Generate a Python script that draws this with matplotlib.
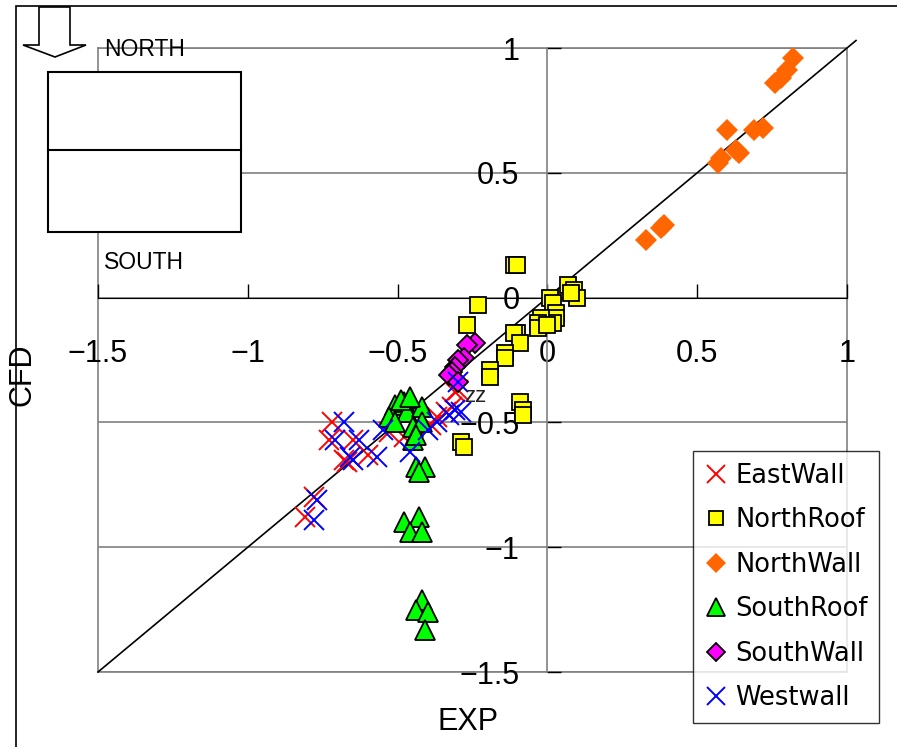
import matplotlib
matplotlib.use("Agg")
import matplotlib.pyplot as plt
import matplotlib.patches as mpatches
import matplotlib.lines as mlines

plt.rcParams['font.family'] = ['Liberation Sans', 'DejaVu Sans']

# ── Data (EXP, CFD) ──────────────────────────────────────────────
EAST_X = [-0.72, -0.73, -0.65, -0.68, -0.67, -0.60, -0.78, -0.81, -0.53, -0.48,
          -0.39, -0.37, -0.34, -0.32, -0.30, -0.31]
EAST_Y = [-0.50, -0.57, -0.57, -0.65, -0.66, -0.63, -0.80, -0.88, -0.54, -0.56,
          -0.51, -0.48, -0.46, -0.44, -0.37, -0.38]

NROOF_X = [-0.11, -0.10, -0.23, -0.27, 0.07, 0.09, 0.10, 0.08, 0.01, 0.02, 0.03,
           0.03, 0.02, -0.02, -0.03, -0.03, 0.00, -0.10, -0.11, -0.09, -0.14,
           -0.14, -0.19, -0.19, -0.09, -0.08, -0.08, -0.29, -0.28]
NROOF_Y = [0.13, 0.13, -0.03, -0.11, 0.05, 0.03, 0.00, 0.02, 0.00, -0.02, -0.06,
           -0.08, -0.10, -0.08, -0.10, -0.12, -0.11, -0.14, -0.14, -0.18, -0.22,
           -0.24, -0.29, -0.32, -0.42, -0.45, -0.47, -0.58, -0.60]

NWALL_X = [0.33, 0.38, 0.39, 0.57, 0.58, 0.60, 0.63, 0.64, 0.69, 0.72, 0.76,
           0.78, 0.80, 0.82]
NWALL_Y = [0.23, 0.28, 0.29, 0.54, 0.56, 0.67, 0.59, 0.58, 0.67, 0.68, 0.86,
           0.88, 0.91, 0.96]

SROOF_X = [-0.51, -0.48, -0.47, -0.53, -0.51, -0.42, -0.45, -0.42, -0.45, -0.49,
           -0.46, -0.44, -0.44, -0.41, -0.43, -0.48, -0.43, -0.46, -0.42, -0.42,
           -0.44, -0.40, -0.41]
SROOF_Y = [-0.43, -0.42, -0.46, -0.48, -0.50, -0.44, -0.52, -0.50, -0.57, -0.41,
           -0.40, -0.55, -0.68, -0.68, -0.70, -0.90, -0.88, -0.94, -0.94, -1.21,
           -1.25, -1.26, -1.33]

SWALL_X = [-0.24, -0.27, -0.28, -0.30, -0.31, -0.32, -0.33, -0.30]
SWALL_Y = [-0.18, -0.19, -0.24, -0.25, -0.28, -0.30, -0.31, -0.34]

WEST_X = [-0.68, -0.71, -0.63, -0.65, -0.66, -0.57, -0.77, -0.78, -0.55, -0.46,
          -0.40, -0.37, -0.33, -0.31, -0.30, -0.29]
WEST_Y = [-0.50, -0.57, -0.57, -0.65, -0.64, -0.64, -0.81, -0.89, -0.53, -0.62,
          -0.53, -0.50, -0.47, -0.45, -0.34, -0.46]

TICKS = [-1.5, -1, -0.5, 0, 0.5, 1]
TICK_LABELS = ['\u22121.5', '\u22121', '\u22120.5', '0', '0.5', '1']

W, H = 897, 747
fig = plt.figure(figsize=(W / 100, H / 100), dpi=100)


def px(x0, y0, x1, y1):
    """pixel box -> figure-fraction rect"""
    return [x0 / W, 1 - y1 / H, (x1 - x0) / W, (y1 - y0) / H]


rect = px(98, 48, 847, 672)

# frame axes: gray border + horizontal gridlines
ax = fig.add_axes(rect)
ax.set_xlim(-1.5, 1)
ax.set_ylim(-1.5, 1)
ax.set_xticks(TICKS)
ax.set_yticks(TICKS)
for s in ax.spines.values():
    s.set_color('#808080')
    s.set_linewidth(1.2)
ax.grid(axis='y', color='#808080', linewidth=1.2)
ax.tick_params(left=False, bottom=False, labelleft=False, labelbottom=False)

# data axes with crossing axis lines at 0
ax2 = fig.add_axes(rect, sharex=ax, sharey=ax)
ax2.patch.set_visible(False)
ax2.spines['top'].set_visible(False)
ax2.spines['right'].set_visible(False)
ax2.spines['bottom'].set_position(('data', 0))
ax2.spines['bottom'].set_color('black')
ax2.spines['left'].set_position(('data', 0))
ax2.spines['left'].set_color('#808080')
ax2.spines['left'].set_linewidth(1.2)
ax2.set_xticklabels(TICK_LABELS)
ax2.set_yticklabels(TICK_LABELS)
ax2.tick_params(axis='x', direction='in', length=10, width=1, pad=30,
                labelsize=22)
ax2.tick_params(axis='y', direction='in', length=10, width=1, pad=20,
                labelsize=22, color='black')

# 1:1 line
ax2.plot([-1.5, 1.03], [-1.5, 1.03], color='black', lw=1.2, clip_on=False,
         zorder=2)

ax2.plot(EAST_X, EAST_Y, ls='none', marker='x', ms=14, mew=1.4,
         color='#FF0000', label='EastWall', zorder=3)
ax2.plot(NROOF_X, NROOF_Y, ls='none', marker='s', ms=11, mew=1.3,
         mfc='#FFFF00', mec='black', label='NorthRoof', zorder=3)
ax2.plot(NWALL_X, NWALL_Y, ls='none', marker='D', ms=11, mew=0,
         mfc='#FF6600', label='NorthWall', zorder=3)
ax2.plot(SROOF_X, SROOF_Y, ls='none', marker='^', ms=14, mew=1.3,
         mfc='#00FF00', mec='black', label='SouthRoof', zorder=3)
ax2.plot(SWALL_X, SWALL_Y, ls='none', marker='D', ms=10, mew=1.3,
         mfc='#FF00FF', mec='black', label='SouthWall', zorder=3)
ax2.plot(WEST_X, WEST_Y, ls='none', marker='x', ms=14, mew=1.4,
         color='#0000FF', label='Westwall', zorder=3)

ax2.text(-0.24, -0.395, 'zz', fontsize=16, ha='center', va='center',
         color='#222222', zorder=4)

leg = ax2.legend(loc='lower left', bbox_to_anchor=px(693, 453, 882, 723)[:2],
                 bbox_transform=fig.transFigure, frameon=True, fancybox=False,
                 edgecolor='black', borderpad=0.45,
                 labelspacing=0.72, handlelength=0.9, handletextpad=0.3,
                 borderaxespad=0, markerscale=0.9,
                 prop={'family': 'DejaVu Sans', 'size': 18.5})
leg.get_frame().set_linewidth(1.0)
leg.set_zorder(5)

# axis titles
fig.text(22 / W, 1 - 375 / H, 'CFD', rotation=90, fontsize=22,
         ha='center', va='center')
fig.text(468 / W, 1 - 722 / H, 'EXP', fontsize=22, ha='center', va='center')

# outer chart frame (runs past right and bottom edge)
fig.add_artist(mpatches.Rectangle((16 / W, -0.1), 1.2, 1 - 6 / H + 0.1,
                                  transform=fig.transFigure, fill=False,
                                  ec='black', lw=1.2))

# orientation sketch: wind arrow + plan box
arrow = [(39, 7), (70, 7), (70, 45), (86, 45), (55, 57), (23, 45), (39, 45)]
fig.add_artist(mpatches.Polygon([(x / W, 1 - y / H) for x, y in arrow],
                                closed=True, fc='white', ec='black', lw=1.2,
                                transform=fig.transFigure))
fig.add_artist(mpatches.Rectangle((48 / W, 1 - 232 / H), 193 / W, 160 / H,
                                  transform=fig.transFigure, fc='white',
                                  ec='black', lw=1.5, zorder=4))
fig.add_artist(mlines.Line2D([48 / W, 241 / W], [1 - 150 / H, 1 - 150 / H],
                             transform=fig.transFigure, color='black', lw=1.5,
                             zorder=5))
fig.text(104 / W, 1 - 50 / H, 'NORTH', fontsize=16.5, ha='left', va='center')
fig.text(104 / W, 1 - 263 / H, 'SOUTH', fontsize=16.5, ha='left',
         va='center')

fig.savefig('out.png', dpi=100)
